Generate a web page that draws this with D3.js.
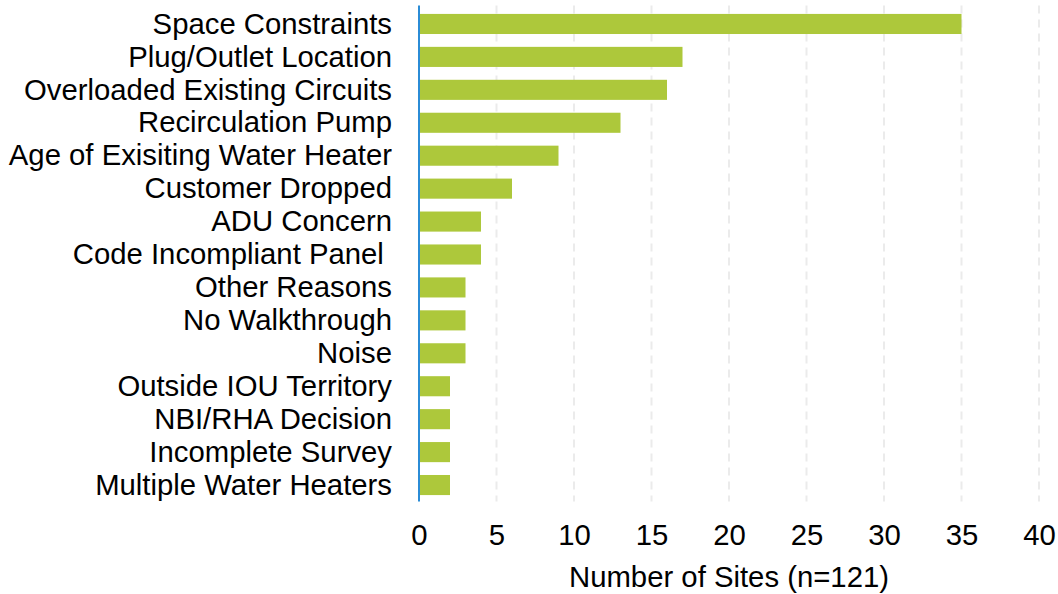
<!DOCTYPE html>
<html>
<head>
<meta charset="utf-8">
<script src="https://cdn.jsdelivr.net/npm/d3@7"></script>
<style>
  body { margin: 0; background: #fff; }
  text { font-family: "Liberation Sans", Arial, sans-serif; fill: #000; }
</style>
</head>
<body>
<div id="divbody"></div>
<script>
var categories = [
  "Space Constraints",
  "Plug/Outlet Location",
  "Overloaded Existing Circuits",
  "Recirculation Pump",
  "Age of Exisiting Water Heater",
  "Customer Dropped",
  "ADU Concern",
  "Code Incompliant Panel ",
  "Other Reasons",
  "No Walkthrough",
  "Noise",
  "Outside IOU Territory",
  "NBI/RHA Decision",
  "Incomplete Survey",
  "Multiple Water Heaters"
];
var siteCounts = [35, 17, 16, 13, 9, 6, 4, 4, 3, 3, 3, 2, 2, 2, 2];
var xTicks = [0, 5, 10, 15, 20, 25, 30, 35, 40];
var xTitle = "Number of Sites (n=121)";

var width = 1058;
var height = 594;
var plotLeft = 419, plotRight = 1039, plotTop = 7.5, plotBottom = 501.5;
var fontSize = "29.3px";

var svg = d3.select("#divbody").append("svg")
  .attr("width", width)
  .attr("height", height);

var x = d3.scaleLinear().domain([0, 40]).range([plotLeft, plotRight]);
var y = d3.scaleBand().domain(categories).range([plotTop, plotBottom]).paddingInner(0.39).paddingOuter(0.195);

// dashed gridlines
svg.append("g").selectAll("line")
  .data(xTicks.slice(1))
  .enter()
  .append("line")
  .attr("x1", function(d){ return x(d); })
  .attr("x2", function(d){ return x(d); })
  .attr("y1", plotTop - 2)
  .attr("y2", plotBottom)
  .attr("stroke", "#ebebeb")
  .attr("stroke-width", 2)
  .attr("stroke-dasharray", "8,6");

// bars
svg.append("g").selectAll("rect")
  .data(siteCounts)
  .enter()
  .append("rect")
  .attr("x", x(0))
  .attr("y", function(d, i){ return y(categories[i]); })
  .attr("width", function(d){ return x(d) - x(0); })
  .attr("height", y.bandwidth())
  .attr("fill", "#adc83b");

// y axis line
svg.append("line")
  .attr("x1", x(0)).attr("x2", x(0))
  .attr("y1", plotTop - 2).attr("y2", plotBottom)
  .attr("stroke", "#2b8cd6")
  .attr("stroke-width", 2);

// category labels (keep trailing space like the original)
var yAxis = svg.append("g")
  .attr("transform", "translate(" + (x(0) - 27) + ",0)")
  .call(d3.axisLeft(y).tickSize(0).tickPadding(0));
yAxis.select(".domain").remove();
yAxis.selectAll("text")
  .attr("font-size", fontSize)
  .attr("font-family", "Liberation Sans, Arial, sans-serif")
  .attr("fill", "#000")
  .style("white-space", "pre")
  .attr("dy", "0.33em");

// x tick labels
var xAxis = svg.append("g")
  .attr("transform", "translate(0," + 518 + ")")
  .call(d3.axisBottom(x).tickValues(xTicks).tickSize(0).tickPadding(0));
xAxis.select(".domain").remove();
xAxis.selectAll("text")
  .attr("font-size", fontSize)
  .attr("font-family", "Liberation Sans, Arial, sans-serif")
  .attr("fill", "#000")
  .attr("dy", "0.93em");

svg.append("text")
  .attr("x", (plotLeft + plotRight) / 2)
  .attr("y", 587)
  .attr("text-anchor", "middle")
  .attr("font-size", fontSize)
  .text(xTitle);
</script>
</body>
</html>
